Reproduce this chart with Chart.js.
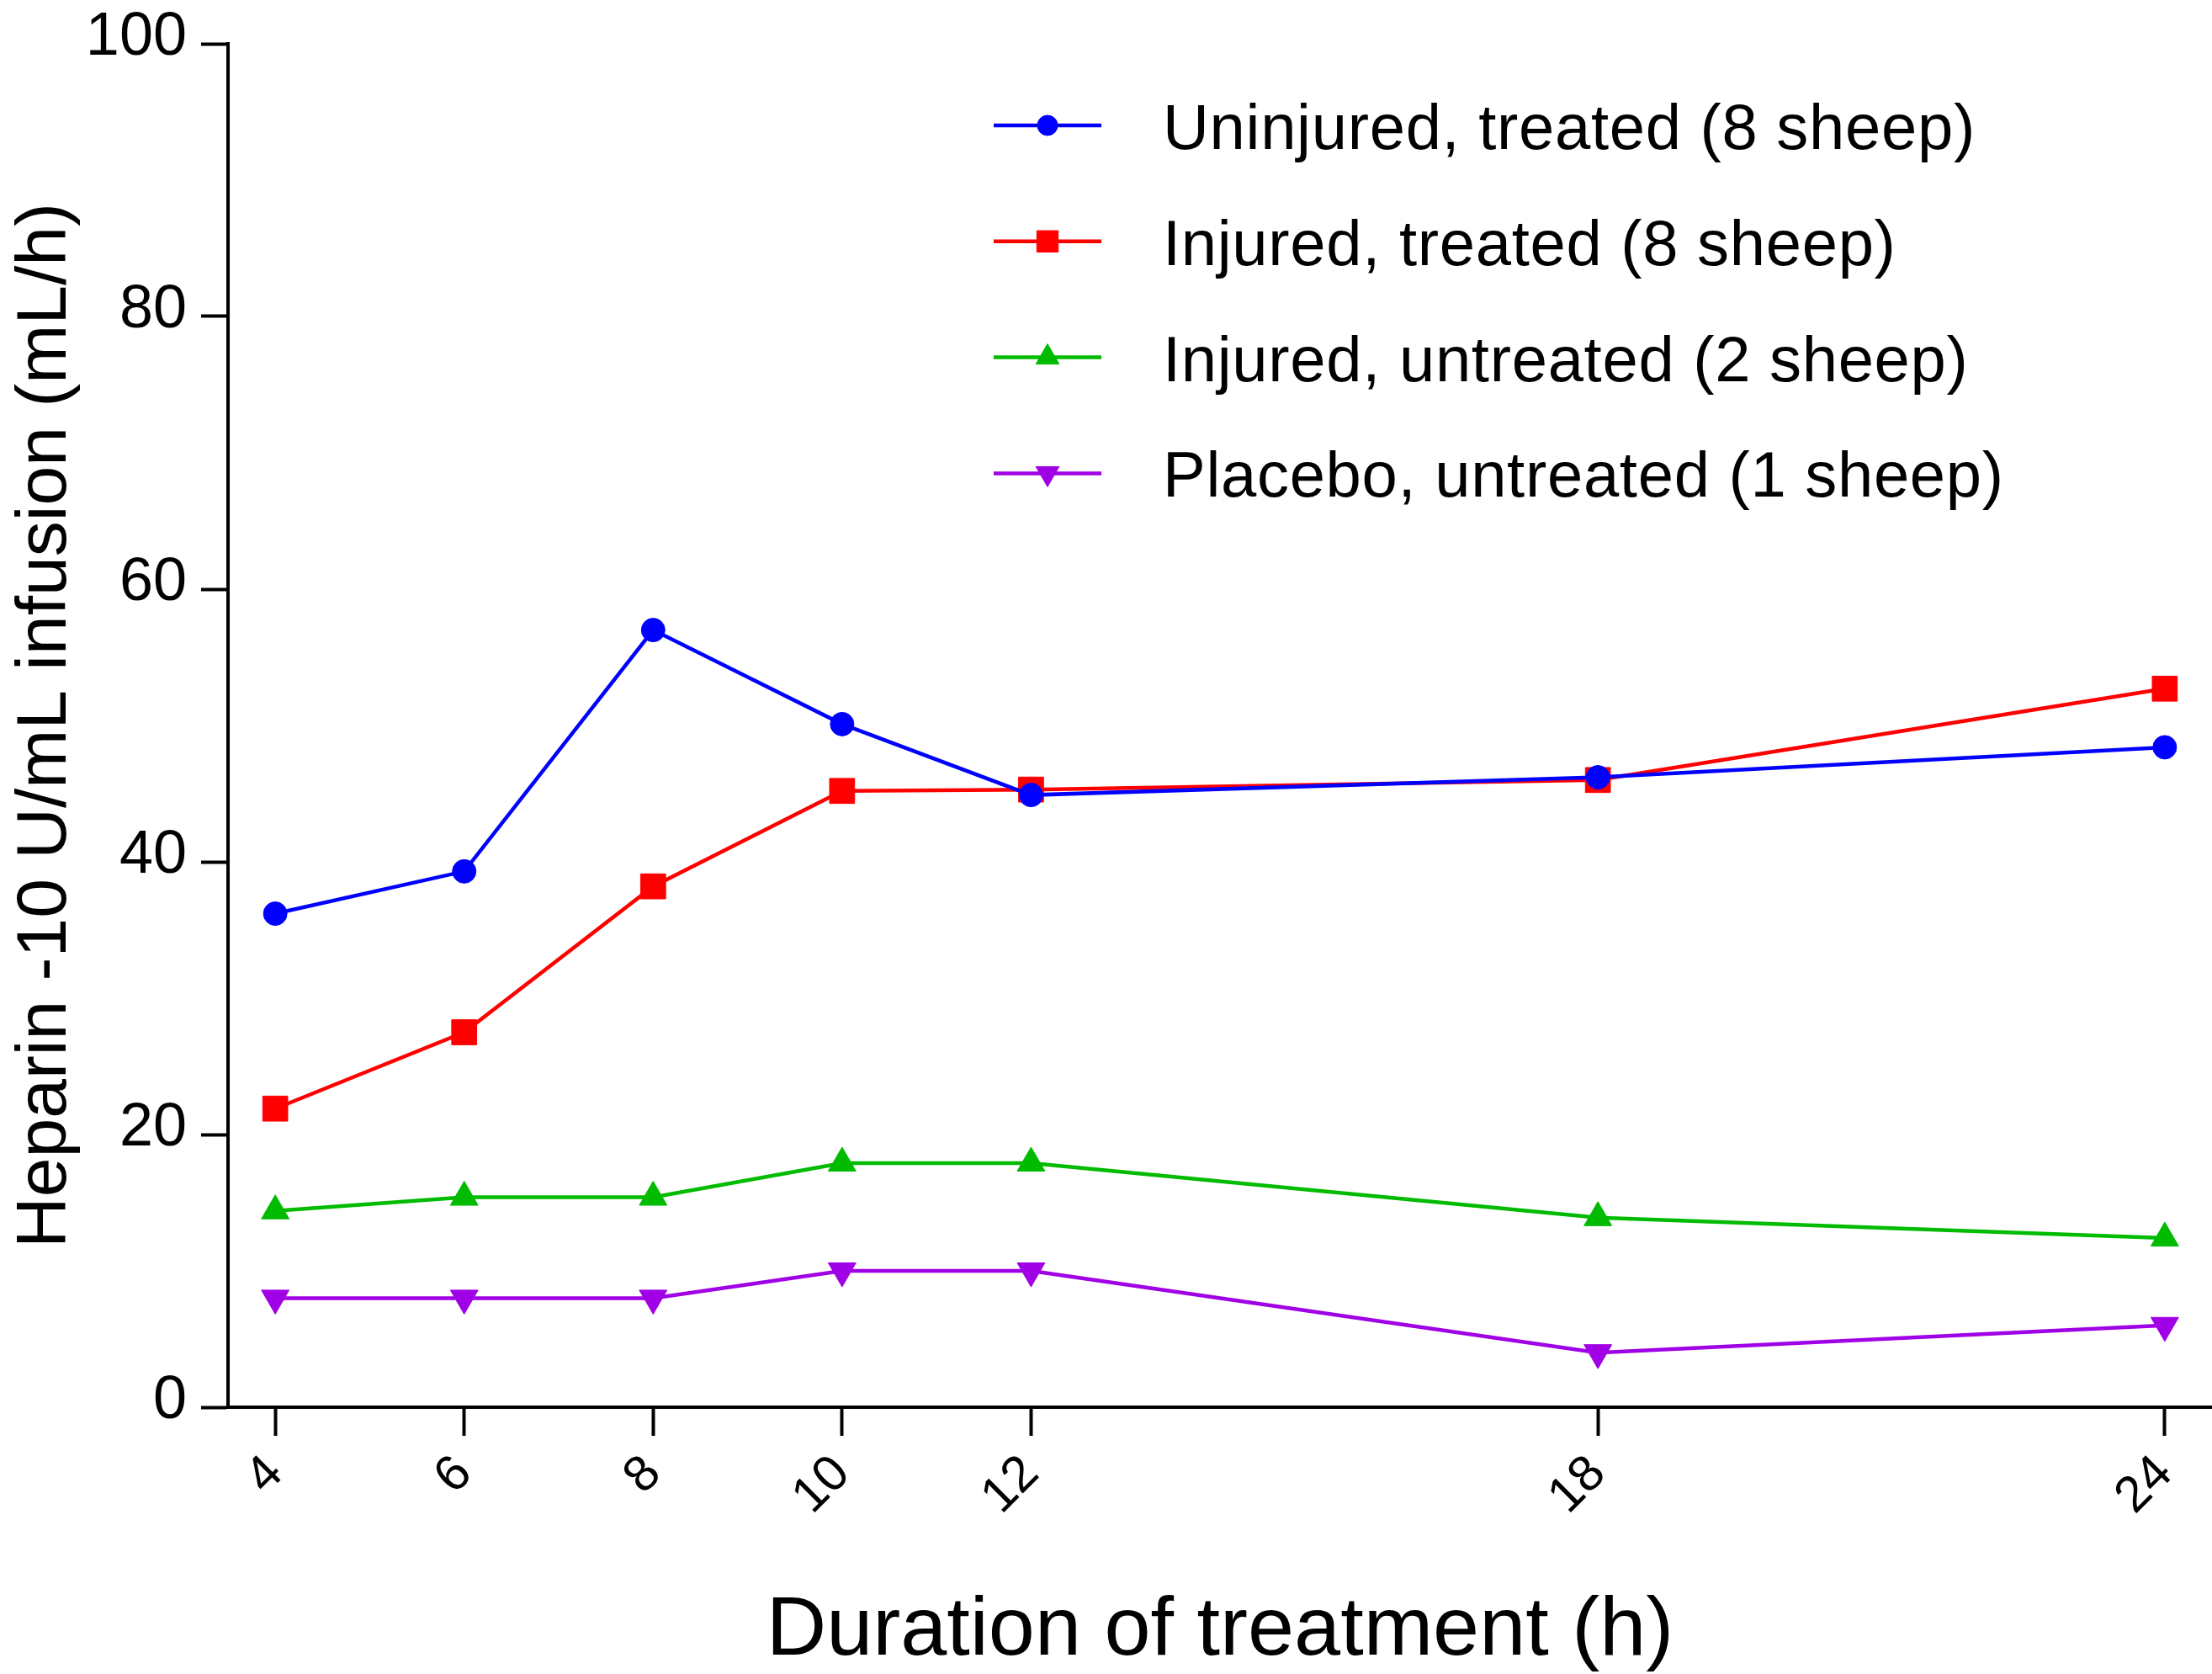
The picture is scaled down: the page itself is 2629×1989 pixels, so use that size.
<!DOCTYPE html>
<html>
<head>
<meta charset="utf-8">
<script src="https://cdn.jsdelivr.net/npm/chart.js@4/dist/chart.umd.min.js"></script>
<style>
  html, body { margin: 0; padding: 0; background: #fff; }
  #wrap { width: 2629px; height: 1989px; }
</style>
</head>
<body>
<div id="wrap"><canvas id="heparinChart" width="2629" height="1989"></canvas></div>
<script>
// values
var hours = [4, 6, 8, 10, 12, 18, 24];
var uninjuredTreated = [36.2, 39.3, 57.0, 50.1, 44.9, 46.2, 48.4];
var injuredTreated = [21.9, 27.5, 38.2, 45.2, 45.3, 46.0, 52.7];
var injuredUntreated = [14.4, 15.4, 15.4, 17.9, 17.9, 13.9, 12.4];
var placeboUntreated = [8, 8, 8, 10, 10, 4, 6];
var seriesLabels = [
  'Uninjured, treated (8 sheep)',
  'Injured, treated (8 sheep)',
  'Injured, untreated (2 sheep)',
  'Placebo, untreated (1 sheep)'
];
var yTicks = [0, 20, 40, 60, 80, 100];

var FONT = '"Liberation Sans", Arial, sans-serif';

function toPoints(values) {
  return values.map(function(v, i) { return { x: hours[i], y: v }; });
}

function series(label, values, color, style, radius, rotation, legendRadius) {
  return {
    label: label,
    data: toPoints(values),
    borderColor: color,
    backgroundColor: color,
    borderWidth: 4.5,
    pointStyle: style,
    pointRadius: radius,
    pointRotation: rotation || 0,
    pointBorderWidth: 1,
    pointBackgroundColor: color,
    pointBorderColor: color,
    legendRadius: legendRadius,
    tension: 0
  };
}

// label overhang would push the plot area in; the figure keeps it fixed
function noOverhang(scale) {
  scale.paddingTop = 0;
  scale.paddingBottom = 0;
  scale.paddingLeft = 0;
  scale.paddingRight = 0;
}

// legend drawn inside the plot, top right, one row per series
var sideLegend = {
  id: 'sideLegend',
  afterDraw: function(chart) {
    var ctx = chart.ctx;
    ctx.save();
    chart.data.datasets.forEach(function(ds, i) {
      var y = 149 + i * 137.8;
      ctx.strokeStyle = ds.borderColor;
      ctx.fillStyle = ds.borderColor;
      ctx.lineWidth = ds.borderWidth;
      ctx.beginPath();
      ctx.moveTo(1181, y);
      ctx.lineTo(1309, y);
      ctx.stroke();
      ctx.lineWidth = 1;
      Chart.helpers.drawPoint(ctx, {
        pointStyle: ds.pointStyle,
        radius: ds.legendRadius,
        rotation: ds.pointRotation,
        borderWidth: 1
      }, 1245, y);
      ctx.fillStyle = '#000';
      ctx.font = '76px ' + FONT;
      ctx.letterSpacing = '0.7px';
      ctx.textAlign = 'left';
      ctx.textBaseline = 'alphabetic';
      ctx.fillText(ds.label, 1382, y + 28);
    });
    ctx.restore();
  }
};

new Chart(document.getElementById('heparinChart'), {
  type: 'line',
  data: {
    datasets: [
      series(seriesLabels[0], uninjuredTreated, '#0000FF', 'circle', 14, 0, 12),
      series(seriesLabels[1], injuredTreated, '#FF0000', 'rect', 21, 0, 18),
      series(seriesLabels[2], injuredUntreated, '#00BB00', 'triangle', 19, 0, 16),
      series(seriesLabels[3], placeboUntreated, '#A000E6', 'triangle', 19, 180, 16)
    ]
  },
  options: {
    responsive: false,
    animation: false,
    events: [],
    layout: { autoPadding: false, padding: { top: 52, right: 0, bottom: 0, left: 0 } },
    plugins: { legend: { display: false }, tooltip: { enabled: false } },
    scales: {
      x: {
        type: 'linear',
        min: 3.5,
        max: 24.5,
        afterBuildTicks: function(scale) {
          scale.ticks = hours.map(function(h) { return { value: h }; });
        },
        afterFit: function(scale) { scale.height = 317; noOverhang(scale); },
        grid: { drawOnChartArea: false, drawTicks: true, tickLength: 34, tickWidth: 4, tickColor: '#000' },
        border: { display: true, color: '#000', width: 4 },
        ticks: {
          autoSkip: false,
          minRotation: 45,
          maxRotation: 45,
          padding: 10,
          color: '#000',
          font: { family: FONT, size: 60 }
        },
        title: {
          display: true,
          text: 'Duration of treatment (h)',
          color: '#000',
          font: { family: FONT, size: 99, lineHeight: 1 },
          padding: { top: 0, bottom: 1 }
        }
      },
      y: {
        min: 0,
        max: 100,
        afterBuildTicks: function(scale) {
          scale.ticks = yTicks.map(function(v) { return { value: v }; });
        },
        afterFit: function(scale) { scale.width = 271; noOverhang(scale); },
        grid: { drawOnChartArea: false, drawTicks: true, tickLength: 32, tickWidth: 4, tickColor: '#000' },
        border: { display: true, color: '#000', width: 4 },
        ticks: {
          padding: 17,
          labelOffset: -7,
          color: '#000',
          font: { family: FONT, size: 72 }
        },
        title: {
          display: true,
          text: 'Heparin -10 U/mL infusion (mL/h)',
          color: '#000',
          font: { family: FONT, size: 84, lineHeight: 1.2 },
          padding: { top: 4, bottom: 0 }
        }
      }
    }
  },
  plugins: [sideLegend]
});
</script>
</body>
</html>
